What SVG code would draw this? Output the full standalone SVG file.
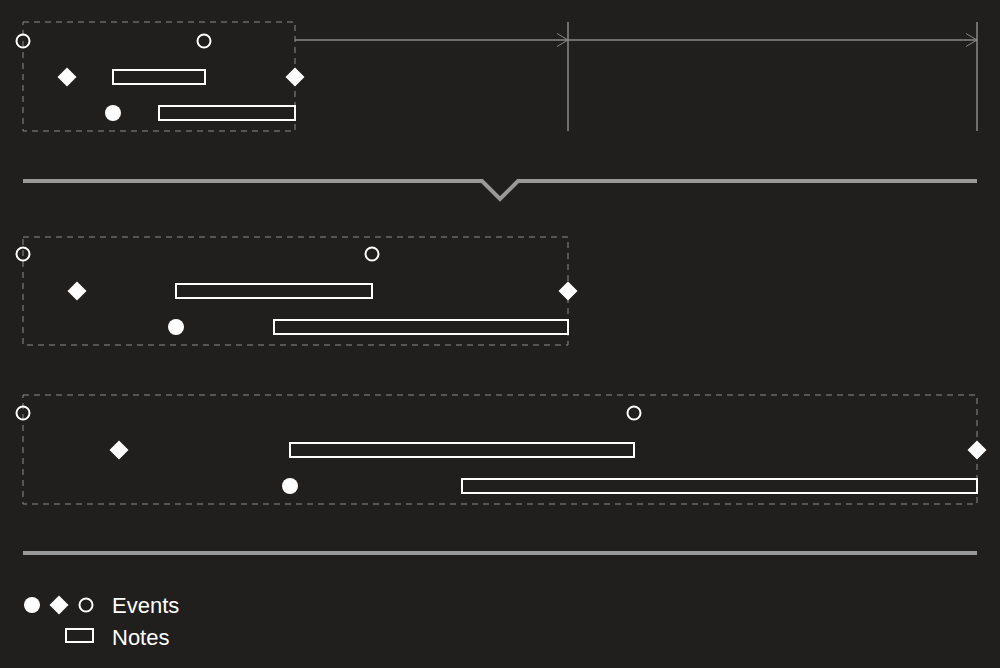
<svg xmlns="http://www.w3.org/2000/svg" width="1000" height="668" viewBox="0 0 1000 668">
<defs>
<style>
.frame{fill:none;stroke:#8c8c8c;stroke-width:1;stroke-dasharray:6 5}
.open{fill:none;stroke:#fff;stroke-width:2}
.fill{fill:#fff}
.note{fill:none;stroke:#fff;stroke-width:2}
.axis{fill:none;stroke:#8a8a8a;stroke-width:1.5}
.sep{fill:none;stroke:#999;stroke-width:4}
.lbl{font-family:"Liberation Sans",Arial,sans-serif;font-size:22px;fill:#fff}
</style>
<marker id="chev" viewBox="0 0 14 14" refX="12" refY="7" markerWidth="14" markerHeight="14" markerUnits="userSpaceOnUse" orient="auto">
<path d="M1,0.5 L12,7 L1,13.5" fill="none" stroke="#8a8a8a" stroke-width="1"/>
</marker>
<path id="dia" d="M0,-9.5 L9.5,0 L0,9.5 L-9.5,0 Z"/>
</defs>
<rect width="1000" height="668" fill="#201f1e"/>

<g id="group-small">
<rect class="frame" x="23" y="22" width="272" height="109"/>
<circle class="open" cx="23" cy="41" r="6.5"/>
<circle class="open" cx="204" cy="41" r="6.5"/>
<use href="#dia" class="fill" x="67" y="77"/>
<rect class="note" x="113" y="70" width="92" height="14"/>
<use href="#dia" class="fill" x="295" y="77"/>
<circle class="fill" cx="113" cy="113" r="8"/>
<rect class="note" x="159" y="106" width="136" height="14"/>
</g>

<g id="scale-axis">
<line class="axis" x1="568" y1="22" x2="568" y2="131"/>
<line class="axis" x1="977" y1="22" x2="977" y2="131"/>
</g>

<g id="connectors">
<line class="axis" x1="295" y1="40" x2="568" y2="40" marker-end="url(#chev)"/>
<line class="axis" x1="568" y1="40" x2="977" y2="40" marker-end="url(#chev)"/>
<path class="sep" d="M23,181 H482 L500,199 L518,181 H977"/>
<line class="sep" x1="23" y1="553" x2="977" y2="553"/>
</g>

<g id="group-medium">
<rect class="frame" x="23" y="237" width="545" height="108"/>
<circle class="open" cx="23" cy="254" r="6.5"/>
<circle class="open" cx="372" cy="254" r="6.5"/>
<use href="#dia" class="fill" x="77" y="291"/>
<rect class="note" x="176" y="284" width="196" height="14"/>
<use href="#dia" class="fill" x="568" y="291"/>
<circle class="fill" cx="176" cy="327" r="8"/>
<rect class="note" x="274" y="320" width="294" height="14"/>
</g>

<g id="group-large">
<rect class="frame" x="23" y="395" width="954" height="109"/>
<circle class="open" cx="23" cy="413" r="6.5"/>
<circle class="open" cx="634" cy="413" r="6.5"/>
<use href="#dia" class="fill" x="119" y="450"/>
<rect class="note" x="290" y="443" width="344" height="14"/>
<use href="#dia" class="fill" x="977" y="450"/>
<circle class="fill" cx="290" cy="486" r="8"/>
<rect class="note" x="462" y="479" width="515" height="14"/>
</g>

<g id="legend">
<circle class="fill" cx="32" cy="605" r="8"/>
<use href="#dia" class="fill" x="59" y="605"/>
<circle class="open" cx="86" cy="605" r="6.5"/>
<text class="lbl" x="112" y="613">Events</text>
<rect class="note" x="66" y="629" width="27" height="13"/>
<text class="lbl" x="112" y="645">Notes</text>
</g>
</svg>
